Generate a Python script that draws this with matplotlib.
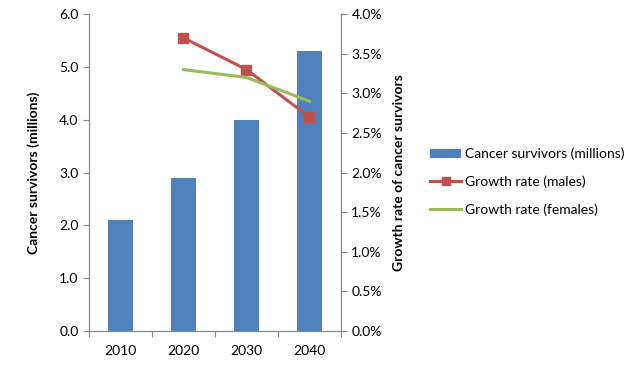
import matplotlib
matplotlib.use("Agg")
import matplotlib.pyplot as plt
from matplotlib.ticker import FuncFormatter
from matplotlib.patches import Patch
from matplotlib.lines import Line2D

years = ["2010", "2020", "2030", "2040"]
survivors = [2.1, 2.9, 4.0, 5.3]
males_years = ["2020", "2030", "2040"]
males_rate = [3.7, 3.3, 2.7]
females_years = ["2020", "2030", "2040"]
females_rate = [3.3, 3.2, 2.9]

plt.rcParams['font.family'] = ['Lato', 'DejaVu Sans']
plt.rcParams['font.size'] = 10

blue = '#4f81bd'
red = '#c0504d'
green = '#9bbb59'
grey = '#868686'

fig = plt.figure(figsize=(6.33, 3.71), dpi=100)
ax = fig.add_axes([0.1406, 0.108, 0.398, 0.854])

x = list(range(len(years)))
ax.bar(x, survivors, width=0.4, color=blue, zorder=2)
ax.set_xlim(-0.5, len(years) - 0.5)
ax.set_ylim(0, 6)
ax.set_yticks([0, 1, 2, 3, 4, 5, 6])
ax.yaxis.set_major_formatter(FuncFormatter(lambda v, p: f"{v:.1f}"))
ax.set_xticks([i - 0.5 for i in range(len(years) + 1)])
ax.set_xticklabels([])
ax.set_xticks(x, minor=True)
ax.set_xticklabels(years, minor=True)
ax.tick_params(axis='x', which='minor', length=0, pad=10)
ax.tick_params(axis='both', which='major', color=grey, length=4, direction='out')
ax.set_ylabel("Cancer survivors (millions)", fontweight='bold', labelpad=14)

ax2 = ax.twinx()
mx = [years.index(y) for y in males_years]
fx = [years.index(y) for y in females_years]
ax2.plot(mx, males_rate, color=red, linewidth=2.2, marker='s', markersize=7, zorder=3)
ax2.plot(fx, females_rate, color=green, linewidth=2.2, zorder=3)
ax2.set_ylim(0, 4)
ax2.set_yticks([0, 0.5, 1, 1.5, 2, 2.5, 3, 3.5, 4])
ax2.yaxis.set_major_formatter(FuncFormatter(lambda v, p: f"{v:.1f}%"))
ax2.tick_params(axis='y', color=grey, length=4, direction='out')
ax2.set_ylabel("Growth rate of cancer survivors", fontweight='bold', labelpad=8)

for a in (ax, ax2):
    a.spines['top'].set_visible(False)
    for s in ('left', 'right', 'bottom'):
        a.spines[s].set_color(grey)

handles = [
    Patch(facecolor=blue),
    Line2D([0], [0], color=red, linewidth=2.2, marker='s', markersize=6),
    Line2D([0], [0], color=green, linewidth=2.2),
]
labels = ["Cancer survivors (millions)", "Growth rate (males)", "Growth rate (females)"]
fig.legend(handles, labels, loc='center left', bbox_to_anchor=(0.66, 0.51),
           frameon=False, handlelength=2.2, handletextpad=0.3, labelspacing=1.1)

fig.savefig("out.png", dpi=100)
